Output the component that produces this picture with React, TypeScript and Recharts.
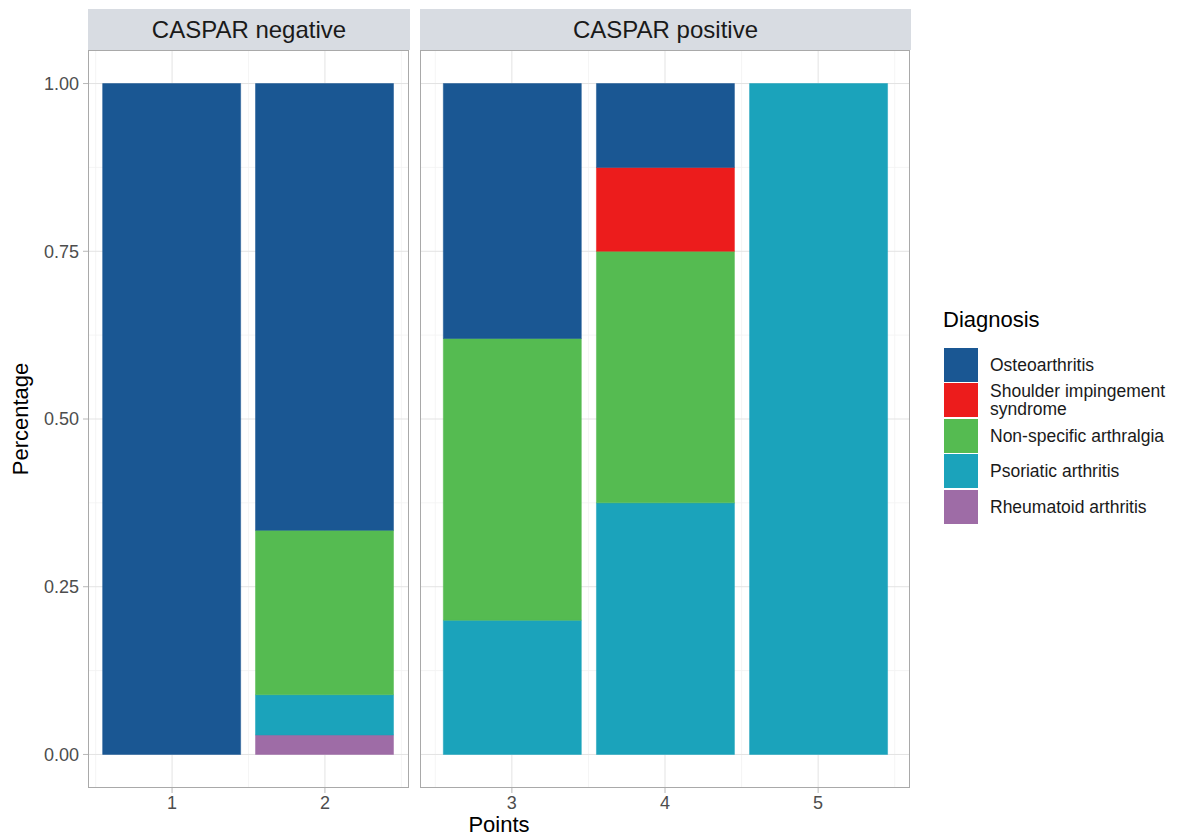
import { BarChart, Bar, XAxis, YAxis, CartesianGrid } from 'recharts';

// share of each diagnosis per CASPAR points score
const points = [1, 2, 3, 4, 5];
const facetOf = ['CASPAR negative', 'CASPAR negative', 'CASPAR positive', 'CASPAR positive', 'CASPAR positive'];
const osteoarthritis = [1, 0.666, 0.38, 0.125, 0];
const shoulderImpingement = [0, 0, 0, 0.125, 0];
const nonSpecific = [0, 0.245, 0.42, 0.375, 0];
const psoriatic = [0, 0.06, 0.2, 0.375, 1];
const rheumatoid = [0, 0.029, 0, 0, 0];

const yTicks = [0, 0.25, 0.5, 0.75, 1];
const yMinor = [0.125, 0.375, 0.625, 0.875];

// legend order (top to bottom); stacking goes the other way
const series = [
    { key: 'osteo', name: 'Osteoarthritis', color: '#1a5793' },
    { key: 'shoulder', name: 'Shoulder impingement syndrome', color: '#ec1c1c' },
    { key: 'nonspec', name: 'Non-specific arthralgia', color: '#55bb51' },
    { key: 'psoriatic', name: 'Psoriatic arthritis', color: '#1ba3bb' },
    { key: 'rheuma', name: 'Rheumatoid arthritis', color: '#9e6ca6' },
];

const rows = points.map((p, i) => ({
    points: p,
    facet: facetOf[i],
    osteo: osteoarthritis[i],
    shoulder: shoulderImpingement[i],
    nonspec: nonSpecific[i],
    psoriatic: psoriatic[i],
    rheuma: rheumatoid[i],
}));

const FONT = '"Liberation Sans", Arial, Helvetica, sans-serif';
const tickStyle = { fontSize: 18, fill: '#4d4d4d', fontFamily: FONT };
const PLOT_TOP = 50;
const PLOT_H = 738;

function Panel({ facet, left, width, xDomain, xTicks, xMinor, withY }: any) {
    const data = rows.filter(r => r.facet === facet);
    const yW = withY ? 88 : 0;
    return (
        <div style={{ position: 'absolute', left: left - yW, top: PLOT_TOP }}>
            <BarChart width={width + yW} height={PLOT_H + 30} data={data} margin={{ top: 0, right: 0, bottom: 0, left: 0 }}>
                <CartesianGrid stroke="#f2f2f2" strokeWidth={0.8} horizontalValues={yMinor} verticalValues={xMinor} />
                <CartesianGrid stroke="#e3e3e3" strokeWidth={1} horizontalValues={yTicks} verticalValues={xTicks} />
                <XAxis
                    type="number"
                    dataKey="points"
                    domain={xDomain}
                    ticks={xTicks}
                    allowDataOverflow
                    interval={0}
                    height={30}
                    axisLine={false}
                    tickLine={{ stroke: '#b8b8b8' }}
                    tickSize={5}
                    tickMargin={3}
                    tick={tickStyle}
                />
                <YAxis
                    type="number"
                    domain={[-0.05, 1.05]}
                    ticks={yTicks}
                    allowDataOverflow
                    hide={!withY}
                    width={yW}
                    axisLine={false}
                    tickLine={{ stroke: '#b8b8b8' }}
                    tickSize={5}
                    tickMargin={4}
                    tick={tickStyle}
                    tickFormatter={(v: number) => v.toFixed(2)}
                />
                {[...series].reverse().map(s => (
                    <Bar
                        key={s.key}
                        dataKey={s.key}
                        name={s.name}
                        stackId="a"
                        fill={s.color}
                        stroke={s.color}
                        strokeWidth={0.5}
                        barSize={138}
                        isAnimationActive={false}
                    />
                ))}
            </BarChart>
            {/* panel border */}
            <div style={{
                position: 'absolute', left: yW, top: 0, width, height: PLOT_H,
                border: '1.5px solid #a9a9a9', boxSizing: 'border-box', pointerEvents: 'none',
            }} />
            {/* facet strip */}
            <div style={{
                position: 'absolute', left: yW, top: -41, width: width + 1, height: 41,
                background: '#d8dce2', display: 'flex', alignItems: 'center', justifyContent: 'center',
                fontFamily: FONT, fontSize: 24, color: '#1a1a1a',
            }}>
                {facet}
            </div>
        </div>
    );
}

export default function App() {
    return (
        <div style={{ position: 'absolute', left: 0, top: 0, width: 1182, height: 838, background: '#fff', fontFamily: FONT }}>
            <Panel facet="CASPAR negative" left={88} width={321} xDomain={[0.45, 2.55]} xTicks={[1, 2]} xMinor={[0.5, 1.5, 2.5]} withY />
            <Panel facet="CASPAR positive" left={420} width={490} xDomain={[2.4, 5.6]} xTicks={[3, 4, 5]} xMinor={[2.5, 3.5, 4.5, 5.5]} withY={false} />

            {/* axis titles */}
            <div style={{ position: 'absolute', left: 399, width: 200, top: 814, textAlign: 'center', fontSize: 22, color: '#000', lineHeight: '22px' }}>
                Points
            </div>
            <div style={{
                position: 'absolute', left: 21, top: 419, width: 0, height: 0,
            }}>
                <div style={{
                    position: 'absolute', left: -100, top: -13, width: 200, textAlign: 'center',
                    fontSize: 22, lineHeight: '26px', color: '#000', transform: 'rotate(-90deg)',
                }}>
                    Percentage
                </div>
            </div>

            {/* legend */}
            <div style={{ position: 'absolute', left: 943, top: 306, fontSize: 22, lineHeight: '28px', color: '#000' }}>
                Diagnosis
            </div>
            <div style={{ position: 'absolute', left: 944, top: 347 }}>
                {series.map(s => (
                    <div key={s.key} style={{ display: 'flex', alignItems: 'center', height: 35.5 }}>
                        <div style={{ width: 34, height: 34, background: s.color, flex: 'none' }} />
                        <div style={{
                            marginLeft: 12, width: 200, fontSize: 17.5, lineHeight: '18px', color: '#1a1a1a',
                        }}>
                            {s.name === 'Shoulder impingement syndrome' ? <>Shoulder impingement<br />syndrome</> : s.name}
                        </div>
                    </div>
                ))}
            </div>
        </div>
    );
}
